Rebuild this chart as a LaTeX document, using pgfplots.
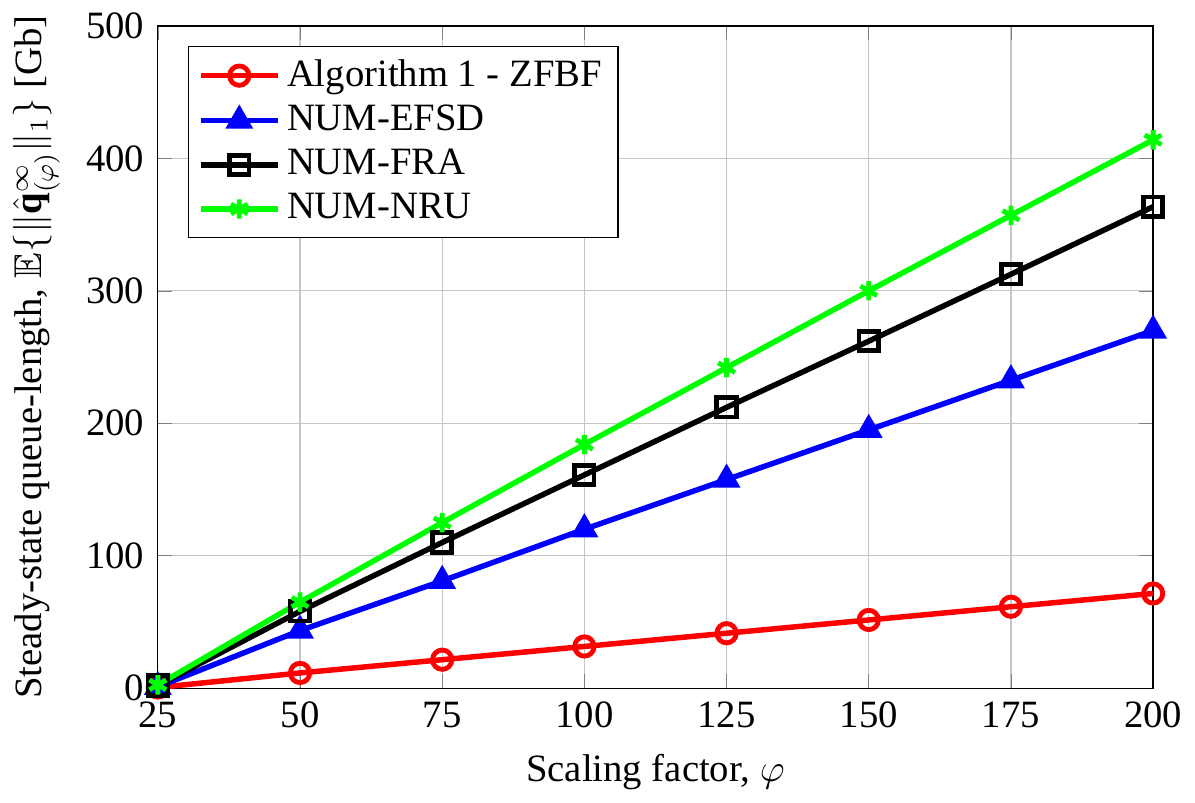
\documentclass[border=0pt]{standalone}
\usepackage{amsmath,amssymb}
\usepackage{fontspec}
\setmainfont{Liberation Serif}
\usepackage{pgfplots}
\pgfplotsset{compat=1.18}
\begin{document}
\fontsize{12}{14.4}\selectfont
\begin{tikzpicture}
\begin{axis}[
  scale only axis,
  width=10.85cm, height=7.22cm,
  xmin=25, xmax=200, ymin=0, ymax=500,
  xtick={25,50,75,100,125,150,175,200},
  ytick={0,100,200,300,400,500},
  grid=major,
  grid style={line width=0.4pt, draw=gray!45},
  /pgf/number format/assume math mode=true,
  xlabel={Scaling factor, $\varphi$},
  ylabel={Steady-state queue-length, $\mathbb{E}\{\|\hat{\mathbf{q}}^{\infty}_{(\varphi)}\|_1\}$ [Gb]},
  legend style={at={(0.03,0.97)}, anchor=north west, draw=black, fill=white},
  legend cell align=left,
  legend image code/.code={%
    \draw[mark repeat=2,mark phase=2,#1] plot coordinates {(0cm,0cm) (0.42cm,0cm) (0.84cm,0cm)};},
  every axis plot/.append style={line width=1.7pt, mark size=3pt},
]
\addplot[red, mark=o, mark options={solid, line width=1.5pt}] coordinates {
  (25,0.5) (50,11.5) (75,21.5) (100,31.5) (125,41.5) (150,51.5) (175,61.5) (200,71.5)};
\addlegendentry{Algorithm 1 - ZFBF}
\addplot[blue, mark=triangle*, mark options={solid}, mark size=3.3pt] coordinates {
  (25,1) (50,43.5) (75,81) (100,120) (125,157.5) (150,195) (175,232.5) (200,270)};
\addlegendentry{NUM-EFSD}
\addplot[black, mark=square, mark options={solid, line width=1.5pt}] coordinates {
  (25,2) (50,58) (75,110) (100,161) (125,212) (150,262) (175,312.5) (200,363.5)};
\addlegendentry{NUM-FRA}
\addplot[green, mark=asterisk, mark options={solid, line width=1.5pt}] coordinates {
  (25,2.5) (50,65) (75,125) (100,184) (125,242) (150,300) (175,357) (200,414)};
\addlegendentry{NUM-NRU}
\end{axis}
\end{tikzpicture}
\end{document}
